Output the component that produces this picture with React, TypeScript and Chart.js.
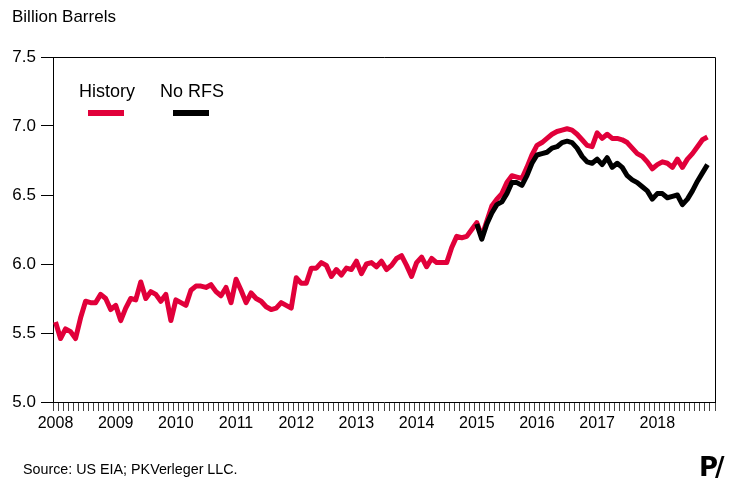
import React, { useEffect, useRef } from "react";
import { Chart, registerables } from "chart.js";

Chart.register(...registerables);

// ---------- data ----------
const years = [2008, 2009, 2010, 2011, 2012, 2013, 2014, 2015, 2016, 2017, 2018];
const monthNames = ["Jan", "Feb", "Mar", "Apr", "May", "Jun", "Jul", "Aug", "Sep", "Oct", "Nov", "Dec"];

// Monthly, Jan 2008 – Nov 2018 (billion barrels)
const history = [
  5.58, 5.46, 5.53, 5.51, 5.46, 5.61, 5.73, 5.72, 5.72, 5.78,
  5.75, 5.67, 5.70, 5.59, 5.68, 5.75, 5.74, 5.87, 5.75, 5.80,
  5.78, 5.73, 5.78, 5.59, 5.74, 5.72, 5.70, 5.81, 5.84, 5.84,
  5.83, 5.85, 5.80, 5.77, 5.83, 5.72, 5.89, 5.81, 5.72, 5.79,
  5.75, 5.73, 5.69, 5.67, 5.68, 5.72, 5.70, 5.68, 5.90, 5.86,
  5.86, 5.97, 5.97, 6.01, 5.99, 5.91, 5.96, 5.92, 5.97, 5.96,
  6.02, 5.93, 6.00, 6.01, 5.98, 6.02, 5.96, 5.99, 6.04, 6.06,
  5.99, 5.91, 6.01, 6.05, 5.98, 6.04, 6.01, 6.01, 6.01, 6.12,
  6.20, 6.19, 6.20, 6.25, 6.30, 6.20, 6.31, 6.42, 6.47, 6.51,
  6.59, 6.64, 6.63, 6.62, 6.70, 6.79, 6.86, 6.88, 6.91, 6.94,
  6.96, 6.97, 6.98, 6.97, 6.94, 6.90, 6.86, 6.85, 6.95, 6.91,
  6.94, 6.91, 6.91, 6.90, 6.88, 6.84, 6.80, 6.78, 6.74, 6.69,
  6.72, 6.74, 6.73, 6.70, 6.76, 6.70, 6.76, 6.80, 6.85, 6.90,
  6.92,
];

// No RFS scenario, Jan 2015 – Nov 2018
const noRfsStart = "Jan 2015";
const noRfs = [
  6.29, 6.18, 6.29, 6.37, 6.43, 6.45, 6.51, 6.59, 6.59, 6.57,
  6.64, 6.73, 6.79, 6.80, 6.81, 6.84, 6.85, 6.88, 6.89, 6.88,
  6.84, 6.78, 6.74, 6.73, 6.76, 6.72, 6.77, 6.70, 6.73, 6.70,
  6.64, 6.61, 6.59, 6.56, 6.53, 6.47, 6.51, 6.51, 6.48, 6.49,
  6.50, 6.43, 6.47, 6.53, 6.60, 6.66, 6.72,
];

const yMin = 5.0;
const yMax = 7.5;
const yStep = 0.5;

// ---------- derived ----------
const labels = years.flatMap((y) => monthNames.map((m) => `${m} ${y}`));
const startIdx = labels.indexOf(noRfsStart);
const noRfsData: (number | null)[] = labels.map((_, i) =>
  i >= startIdx && i - startIdx < noRfs.length ? noRfs[i - startIdx] : null
);

const FONT = '"Liberation Sans", Arial, sans-serif';
const RED = "#E1003A";

const framePlugin = {
  id: "frameAndLegend",
  afterDraw(chart: any) {
    const { ctx, chartArea: a } = chart;
    ctx.save();
    ctx.strokeStyle = "#000";
    ctx.lineWidth = 1;
    ctx.beginPath();
    ctx.moveTo(Math.round(a.left), Math.round(a.top) + 0.5);
    ctx.lineTo(Math.round(a.right) + 0.5, Math.round(a.top) + 0.5);
    ctx.lineTo(Math.round(a.right) + 0.5, Math.round(a.bottom));
    ctx.stroke();

    // legend
    ctx.font = `18px ${FONT}`;
    ctx.fillStyle = "#000";
    ctx.textBaseline = "middle";
    ctx.fillText("History", 79, 92);
    ctx.fillText("No RFS", 160, 92);
    ctx.lineWidth = 6;
    ctx.lineCap = "butt";
    ctx.strokeStyle = RED;
    ctx.beginPath();
    ctx.moveTo(88, 113);
    ctx.lineTo(124, 113);
    ctx.stroke();
    ctx.strokeStyle = "#000";
    ctx.beginPath();
    ctx.moveTo(173, 113);
    ctx.lineTo(209, 113);
    ctx.stroke();
    ctx.restore();
  },
};

export default function App() {
  const canvasRef = useRef<HTMLCanvasElement | null>(null);

  useEffect(() => {
    const canvas = canvasRef.current;
    if (!canvas) return;
    const chart = new Chart(canvas, {
      type: "line",
      data: {
        labels,
        datasets: [
          {
            label: "No RFS",
            data: noRfsData,
            borderColor: "#000",
            borderWidth: 5,
            pointRadius: 0,
            tension: 0,
            borderJoinStyle: "round",
            spanGaps: false,
            order: 0,
          },
          {
            label: "History",
            data: history,
            borderColor: RED,
            borderWidth: 5,
            pointRadius: 0,
            tension: 0,
            borderJoinStyle: "round",
            order: 1,
          },
        ],
      },
      options: {
        responsive: false,
        animation: false,
        devicePixelRatio: 1,
        layout: { padding: { top: 57, right: 17, bottom: 48, left: 0 } },
        plugins: {
          legend: { display: false },
          tooltip: { enabled: false },
          title: { display: false },
        },
        scales: {
          x: {
            type: "category",
            offset: true,
            border: { display: true, color: "#000", width: 1 },
            grid: {
              display: true,
              offset: true,
              drawOnChartArea: false,
              drawTicks: true,
              tickLength: 9,
              color: "#444",
              lineWidth: 1,
            },
            ticks: {
              autoSkip: false,
              maxRotation: 0,
              minRotation: 0,
              padding: 3,
              color: "#000",
              font: { family: FONT, size: 16 },
              callback: (_v: any, idx: number) =>
                idx % 12 === 0 ? String(years[idx / 12]) : "",
            },
            afterFit: (scale: any) => {
              scale.height = 30;
            },
          },
          y: {
            min: yMin,
            max: yMax,
            border: { display: true, color: "#000", width: 1 },
            grid: {
              display: true,
              drawOnChartArea: false,
              drawTicks: true,
              tickLength: 12,
              color: "#000",
              lineWidth: 1,
            },
            ticks: {
              stepSize: yStep,
              padding: 5,
              color: "#000",
              font: { family: FONT, size: 17 },
              callback: (v: any) => Number(v).toFixed(1),
            },
            afterFit: (scale: any) => {
              scale.width = 53;
            },
          },
        },
      },
      plugins: [framePlugin],
    });
    return () => chart.destroy();
  }, []);

  return (
    <div
      style={{
        position: "absolute",
        left: 0,
        top: 0,
        width: 732,
        height: 480,
        background: "#fff",
        fontFamily: FONT,
        overflow: "hidden",
      }}
    >
      <canvas ref={canvasRef} width={732} height={480} style={{ position: "absolute", left: 0, top: 0 }} />
      <div style={{ position: "absolute", left: 12, top: 7, fontSize: 17, color: "#000", whiteSpace: "nowrap" }}>
        Billion Barrels
      </div>
      <div style={{ position: "absolute", left: 23, top: 461, fontSize: 14.3, color: "#000", whiteSpace: "nowrap" }}>
        Source: US EIA; PKVerleger LLC.
      </div>
      <div
        style={{
          position: "absolute",
          left: 699,
          top: 452,
          fontSize: 26,
          fontWeight: "bold",
          fontFamily: '"DejaVu Sans", sans-serif',
          color: "#000",
          whiteSpace: "nowrap",
          letterSpacing: -3,
        }}
      >
        P/
      </div>
    </div>
  );
}
